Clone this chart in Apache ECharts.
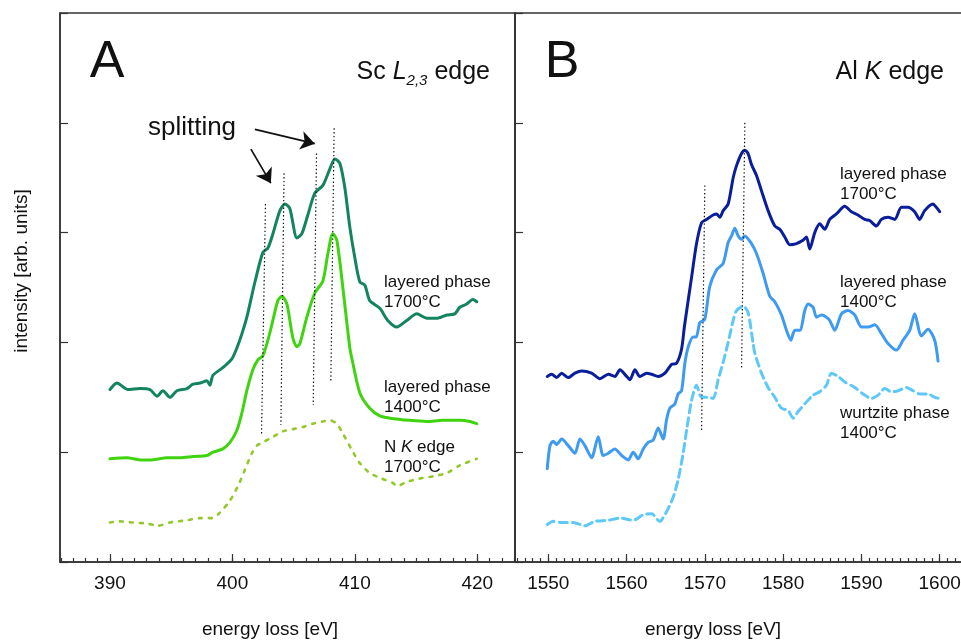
<!DOCTYPE html>
<html>
<head>
<meta charset="utf-8">
<script src="https://cdn.jsdelivr.net/npm/echarts@6.0.0/dist/echarts.min.js"></script>
<style>
  html, body { margin: 0; padding: 0; background: #fff; }
  #main { width: 961px; height: 641px; }
</style>
</head>
<body>
<div id="main"></div>
<script>
// Sc L2,3 edge (panel A): [energy loss eV, intensity]
const scLayered1700 = [
  [390.0, 1.57], [390.57, 1.63], [391.47, 1.57], [392.45, 1.58], [393.27, 1.57], [393.84, 1.51],
  [394.33, 1.56], [394.9, 1.5], [395.47, 1.56], [396.29, 1.58], [396.78, 1.62], [397.35, 1.63],
  [397.92, 1.65], [398.16, 1.61], [398.41, 1.7], [399.22, 1.77], [399.96, 1.85], [400.37, 1.95],
  [400.78, 2.08], [401.18, 2.23], [401.84, 2.55], [402.49, 2.82], [402.9, 2.86], [403.31, 2.99],
  [403.88, 3.2], [404.29, 3.26], [404.69, 3.22], [405.27, 2.95], [405.67, 2.99], [406.16, 3.16],
  [406.73, 3.36], [407.39, 3.43], [407.96, 3.58], [408.37, 3.67], [408.78, 3.63], [409.18, 3.41],
  [409.59, 3.05], [410.0, 2.77], [410.41, 2.55], [410.82, 2.52], [411.22, 2.38], [412.04, 2.31],
  [412.69, 2.2], [413.43, 2.14], [414.24, 2.2], [415.06, 2.26], [415.88, 2.22], [416.69, 2.22],
  [417.51, 2.25], [418.16, 2.26], [418.57, 2.32], [419.14, 2.35], [419.63, 2.39], [419.96, 2.37]
]
const scLayered1400 = [
  [390.0, 0.94], [391.39, 0.95], [392.45, 0.93], [393.43, 0.93], [394.65, 0.95], [395.71, 0.95],
  [396.78, 0.96], [397.92, 0.97], [398.41, 1.0], [399.22, 1.03], [399.8, 1.09], [400.37, 1.2],
  [400.78, 1.36], [401.18, 1.56], [401.67, 1.75], [402.08, 1.84], [402.49, 1.88], [402.9, 2.02],
  [403.22, 2.16], [403.71, 2.38], [404.04, 2.42], [404.45, 2.35], [404.94, 2.04], [405.27, 1.96],
  [405.51, 1.99], [406.08, 2.23], [406.73, 2.45], [407.39, 2.56], [407.8, 2.81], [408.2, 2.99],
  [408.53, 2.93], [409.02, 2.5], [409.59, 1.95], [409.84, 1.81], [410.41, 1.54], [411.22, 1.4],
  [412.04, 1.33], [412.86, 1.31], [414.49, 1.29], [415.88, 1.28], [417.18, 1.29], [418.57, 1.29],
  [419.39, 1.28], [419.96, 1.26]
]
const nK1700 = [
  [390.0, 0.36], [390.82, 0.37], [391.88, 0.36], [393.02, 0.35], [393.92, 0.33], [394.9, 0.36],
  [396.29, 0.38], [397.35, 0.4], [398.33, 0.4], [398.98, 0.45], [399.8, 0.56], [400.45, 0.69],
  [401.02, 0.84], [401.59, 0.99], [402.0, 1.06], [402.49, 1.09], [403.31, 1.14], [404.12, 1.19],
  [404.94, 1.21], [405.76, 1.23], [406.57, 1.26], [407.39, 1.28], [407.96, 1.29], [408.53, 1.26],
  [409.02, 1.17], [409.76, 1.02], [410.41, 0.9], [411.22, 0.81], [412.2, 0.76], [413.1, 0.72],
  [413.43, 0.69], [414.24, 0.73], [415.31, 0.76], [416.37, 0.78], [417.51, 0.81], [418.57, 0.88],
  [419.96, 0.94]
]

// Al K edge (panel B)
const alLayered1700 = [
  [1549.87, 1.69], [1550.43, 1.71], [1551.07, 1.68], [1551.71, 1.72], [1552.55, 1.68], [1553.41, 1.72],
  [1554.26, 1.74], [1555.54, 1.72], [1556.6, 1.67], [1557.66, 1.71], [1558.51, 1.69], [1559.15, 1.75],
  [1560.01, 1.69], [1560.43, 1.66], [1561.07, 1.75], [1561.7, 1.69], [1562.56, 1.72], [1563.2, 1.71],
  [1564.04, 1.69], [1564.9, 1.72], [1565.75, 1.8], [1566.39, 1.81], [1567.03, 1.94], [1567.4, 2.15],
  [1568.3, 2.59], [1568.94, 2.9], [1569.58, 3.09], [1570.21, 3.12], [1571.06, 3.16], [1571.49, 3.17],
  [1571.92, 3.14], [1572.34, 3.2], [1572.98, 3.26], [1573.62, 3.5], [1574.05, 3.61], [1574.69, 3.72],
  [1575.11, 3.75], [1575.53, 3.72], [1575.96, 3.62], [1576.6, 3.52], [1577.24, 3.38], [1578.08, 3.2],
  [1578.94, 3.06], [1579.57, 3.03], [1580.21, 2.96], [1580.85, 2.89], [1581.7, 2.9], [1582.54, 2.93],
  [1582.98, 2.96], [1583.4, 2.85], [1584.04, 3.0], [1584.68, 3.08], [1585.32, 3.03], [1585.95, 3.12],
  [1586.81, 3.17], [1587.87, 3.24], [1588.73, 3.19], [1589.57, 3.16], [1590.42, 3.12], [1591.06, 3.11],
  [1591.91, 3.06], [1592.55, 3.12], [1593.4, 3.14], [1594.25, 3.12], [1595.11, 3.23], [1595.95, 3.23],
  [1596.8, 3.19], [1597.44, 3.12], [1598.08, 3.2], [1599.14, 3.26], [1599.57, 3.23], [1600.0, 3.19]
]
const alLayered1400 = [
  [1549.87, 0.85], [1550.22, 1.06], [1550.64, 1.1], [1551.07, 1.07], [1551.71, 1.12], [1552.55, 1.06],
  [1553.41, 0.99], [1554.05, 1.12], [1554.68, 1.06], [1555.54, 0.95], [1556.38, 1.14], [1557.02, 0.97],
  [1557.66, 0.99], [1558.51, 1.03], [1559.37, 0.97], [1560.21, 0.93], [1560.85, 1.0], [1561.49, 0.94],
  [1562.13, 1.03], [1562.76, 1.09], [1563.4, 1.11], [1564.04, 1.22], [1564.68, 1.12], [1565.12, 1.3],
  [1565.53, 1.4], [1566.17, 1.44], [1566.59, 1.53], [1567.03, 1.56], [1567.45, 1.81], [1567.88, 1.96],
  [1568.51, 2.05], [1568.9, 2.05], [1569.36, 2.18], [1569.99, 2.21], [1570.63, 2.51], [1571.49, 2.66],
  [1572.34, 2.72], [1572.98, 2.91], [1573.41, 2.97], [1573.83, 3.04], [1574.26, 2.97], [1574.69, 2.94],
  [1575.11, 2.97], [1575.96, 2.9], [1576.6, 2.81], [1577.44, 2.63], [1578.3, 2.42], [1578.94, 2.37],
  [1579.79, 2.25], [1580.43, 2.11], [1580.98, 2.02], [1581.49, 2.11], [1582.13, 2.11], [1582.77, 2.29],
  [1583.19, 2.35], [1583.83, 2.32], [1584.26, 2.23], [1584.9, 2.25], [1585.54, 2.23], [1585.96, 2.2],
  [1586.6, 2.11], [1587.45, 2.26], [1588.3, 2.29], [1589.15, 2.25], [1590.0, 2.14], [1590.85, 2.14],
  [1591.71, 2.16], [1592.56, 2.08], [1593.4, 1.99], [1594.47, 1.93], [1595.32, 2.02], [1596.17, 2.11],
  [1596.81, 2.26], [1597.66, 2.06], [1598.51, 2.12], [1599.36, 2.02], [1599.79, 1.83]
]
const alWurtzite1400 = [
  [1549.87, 0.34], [1550.64, 0.37], [1551.71, 0.36], [1553.19, 0.36], [1554.68, 0.33], [1555.96, 0.37],
  [1557.66, 0.38], [1559.15, 0.4], [1560.85, 0.38], [1562.13, 0.43], [1563.2, 0.44], [1564.23, 0.37],
  [1565.12, 0.46], [1565.96, 0.59], [1566.59, 0.75], [1567.23, 0.99], [1567.67, 1.2], [1568.3, 1.47],
  [1568.94, 1.61], [1569.58, 1.5], [1570.42, 1.5], [1571.06, 1.49], [1571.7, 1.66], [1572.34, 1.82],
  [1572.98, 2.0], [1573.62, 2.2], [1574.05, 2.29], [1574.9, 2.33], [1575.53, 2.27], [1576.17, 1.99],
  [1576.39, 1.9], [1577.24, 1.72], [1578.08, 1.59], [1578.94, 1.5], [1579.79, 1.4], [1580.64, 1.38],
  [1581.28, 1.31], [1581.92, 1.37], [1582.77, 1.44], [1583.83, 1.52], [1584.68, 1.55], [1585.54, 1.61],
  [1586.17, 1.72], [1587.02, 1.69], [1587.87, 1.64], [1589.15, 1.59], [1590.21, 1.53], [1591.28, 1.49],
  [1592.13, 1.52], [1592.98, 1.58], [1593.83, 1.55], [1594.68, 1.56], [1595.75, 1.59], [1596.6, 1.56],
  [1597.44, 1.53], [1598.51, 1.53], [1599.36, 1.5], [1600.0, 1.49]
]

// dotted guide lines and "splitting" arrows: [[top], [bottom]] / [[start], [tip]]
const guidesA = [
  [[402.7, 3.26], [402.38, 1.17]],
  [[404.22, 3.54], [403.96, 1.25]],
  [[406.87, 3.72], [406.6, 1.43]],
  [[408.31, 3.95], [408.04, 1.65]]
]
const guidesB = [
  [[1570.0, 3.43], [1569.58, 1.19]],
  [[1575.11, 4.0], [1574.69, 1.75]]
]
const splitArrows = [
  [[401.51, 3.76], [403.14, 3.45]],
  [[401.84, 3.94], [406.73, 3.81]]
]

// ticks
const ticksA = [390, 400, 410, 420]
const ticksB = [1550, 1560, 1570, 1580, 1590, 1600]
function range(a, b) {
  const out = []
  for (let v = a; v <= b; v++) out.push(v)
  return out
}
const minorA = range(386, 423)
const minorB = range(1546, 1604)

const FONT = 'Liberation Sans, Arial, sans-serif'
const AX = '#333'

function majorX(grid, min, max, ticks) {
  return {
    gridIndex: grid, type: 'value', position: 'bottom', min: min, max: max,
    axisLine: { show: true, lineStyle: { color: AX, width: 1.5 } },
    axisTick: { show: true, inside: true, length: 8, customValues: ticks, lineStyle: { color: AX, width: 1.2 } },
    axisLabel: { customValues: ticks, margin: 12, fontSize: 19, color: '#111', fontFamily: FONT, formatter: v => String(v) },
    splitLine: { show: false }
  }
}
function minorX(grid, min, max, ticks) {
  return {
    gridIndex: grid, type: 'value', position: 'bottom', min: min, max: max,
    axisLine: { show: false },
    axisTick: { show: true, inside: true, length: 4, customValues: ticks, lineStyle: { color: AX, width: 1.2 } },
    axisLabel: { show: false },
    splitLine: { show: false }
  }
}
function yAx(grid) {
  return {
    gridIndex: grid, type: 'value', min: 0, max: 5, interval: 1,
    axisLine: { show: true, lineStyle: { color: AX, width: 1.5 } },
    axisTick: { show: true, inside: true, length: 8, lineStyle: { color: AX, width: 1.2 } },
    axisLabel: { show: false },
    splitLine: { show: false }
  }
}
function curve(name, data, color, xi, yi, dash, width) {
  return {
    name: name, type: 'line', xAxisIndex: xi, yAxisIndex: yi, data: data,
    smooth: 0.25, showSymbol: false, symbol: 'none', silent: true,
    lineStyle: { color: color, width: width || 3, type: dash || 'solid', cap: 'round', join: 'round' }
  }
}
function guideLines(list) {
  return {
    silent: true, symbol: ['none', 'none'], animation: false,
    label: { show: false },
    lineStyle: { color: '#111', width: 1.2, type: [1.4, 2.4] },
    data: list.map(g => [{ coord: g[0] }, { coord: g[1] }])
  }
}

const chart = echarts.init(document.getElementById('main'))

const sA = curve('layered 1700 Sc', scLayered1700, '#14845f', 0, 0)
sA.markLine = {
  silent: true, symbol: ['none', 'arrow'], symbolSize: 14, animation: false,
  label: { show: false },
  lineStyle: { color: '#111', width: 1.7, type: 'solid' },
  data: splitArrows.map(a => [{ coord: a[0] }, { coord: a[1] }])
}
const sB = curve('layered 1400 Sc', scLayered1400, '#3fd40f', 0, 0)
sB.markLine = guideLines(guidesA)
const sC = curve('N K 1700', nK1700, '#93c82a', 0, 0, [3, 7], 2.6)
const sD = curve('layered 1700 Al', alLayered1700, '#0a1e9c', 2, 1)
sD.markLine = guideLines(guidesB)
const sE = curve('layered 1400 Al', alLayered1400, '#3f9bef', 2, 1)
const sF = curve('wurtzite 1400 Al', alWurtzite1400, '#5ec8f8', 2, 1, [8, 5])

const txt = (x, y, text, extra) => ({
  type: 'text', x: x, y: y, silent: true,
  style: Object.assign({ text: text, fontFamily: FONT, fill: '#111', fontSize: 17 }, extra || {})
})
const labelRich = {
  n: { fontSize: 17, fontFamily: FONT, lineHeight: 20, fill: '#111', color: '#111' },
  i: { fontSize: 17, fontFamily: FONT, lineHeight: 20, fontStyle: 'italic', fill: '#111', color: '#111' }
}

const option = {
  animation: false,
  textStyle: { fontFamily: FONT },
  grid: [
    { left: 60, top: 13, width: 455, height: 549, show: true, borderColor: AX, borderWidth: 1.5,
      backgroundColor: 'transparent', containLabel: false, outerBoundsMode: 'none' },
    { left: 515, top: 13, right: -10, height: 549, show: true, borderColor: AX, borderWidth: 1.5,
      backgroundColor: 'transparent', containLabel: false, outerBoundsMode: 'none' }
  ],
  xAxis: [
    majorX(0, 385.92, 423.08, ticksA),
    minorX(0, 385.92, 423.08, minorA),
    majorX(1, 1545.75, 1604, ticksB),
    minorX(1, 1545.75, 1604, minorB)
  ],
  yAxis: [yAx(0), yAx(1)],
  series: [sC, sB, sA, sF, sE, sD],
  graphic: [
    txt(107, 63, 'A', { fontSize: 52, align: 'center', verticalAlign: 'middle' }),
    txt(562, 63, 'B', { fontSize: 52, align: 'center', verticalAlign: 'middle' }),
    txt(490, 72, '{n|Sc }{i|L}{s|2,3}{n| edge}', {
      align: 'right', verticalAlign: 'middle',
      rich: {
        n: { fontSize: 25, fontFamily: FONT, lineHeight: 32, fill: '#111' },
        i: { fontSize: 25, fontFamily: FONT, lineHeight: 32, fontStyle: 'italic', fill: '#111' },
        s: { fontSize: 15, fontFamily: FONT, lineHeight: 15, fontStyle: 'italic', verticalAlign: 'bottom', fill: '#111' }
      }
    }),
    txt(944, 72, '{n|Al }{i|K}{n| edge}', {
      align: 'right', verticalAlign: 'middle',
      rich: {
        n: { fontSize: 25, fontFamily: FONT, lineHeight: 32, fill: '#111' },
        i: { fontSize: 25, fontFamily: FONT, lineHeight: 32, fontStyle: 'italic', fill: '#111' }
      }
    }),
    txt(192, 128, 'splitting', { fontSize: 26, align: 'center', verticalAlign: 'middle' }),
    txt(384, 292, 'layered phase\n1700°C', { lineHeight: 20, verticalAlign: 'middle' }),
    txt(384, 397, 'layered phase\n1400°C', { lineHeight: 20, verticalAlign: 'middle' }),
    txt(384, 457, '{n|N }{i|K}{n| edge}\n{n|1700°C}', { verticalAlign: 'middle', rich: labelRich }),
    txt(840, 184, 'layered phase\n1700°C', { lineHeight: 20, verticalAlign: 'middle' }),
    txt(840, 292, 'layered phase\n1400°C', { lineHeight: 20, verticalAlign: 'middle' }),
    txt(840, 423, 'wurtzite phase\n1400°C', { lineHeight: 20, verticalAlign: 'middle' }),
    txt(270, 630, 'energy loss [eV]', { fontSize: 19, align: 'center', verticalAlign: 'middle' }),
    txt(713, 630, 'energy loss [eV]', { fontSize: 19, align: 'center', verticalAlign: 'middle' }),
    {
      type: 'text', x: 22, y: 271, rotation: Math.PI / 2, silent: true,
      style: { text: 'intensity [arb. units]', fontFamily: FONT, fontSize: 19, fill: '#111', align: 'center', verticalAlign: 'middle' }
    }
  ]
}

chart.setOption(option)
</script>
</body>
</html>
